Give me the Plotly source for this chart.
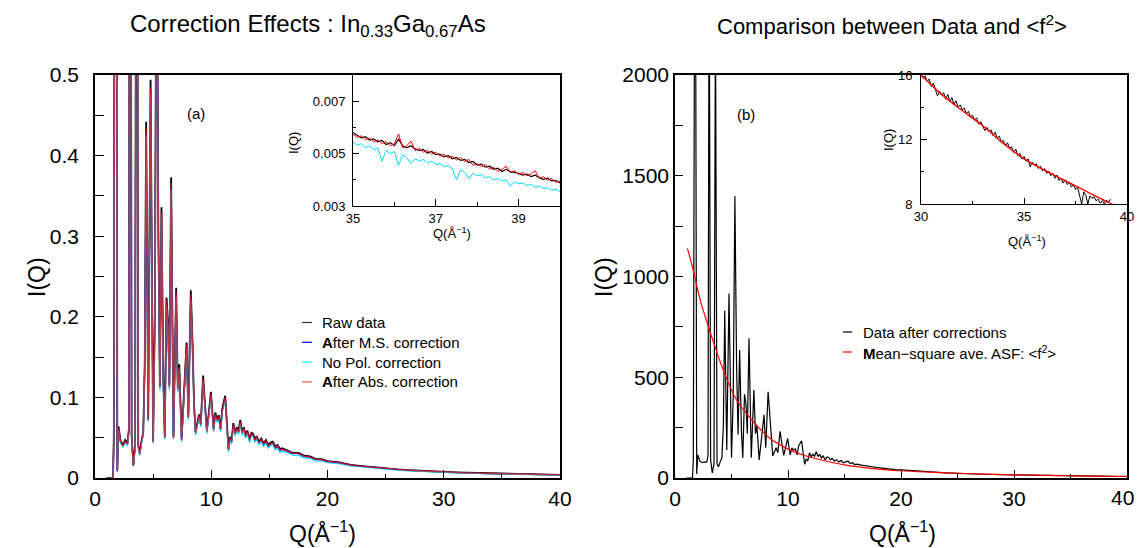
import plotly.graph_objects as go

# ---------------- data: panel (a) main ----------------
q_main = [
    1.0, 1.55, 1.62, 1.78, 1.92, 2.02, 2.2, 2.4, 2.6, 2.8,
    2.92, 3.02, 3.15, 3.3, 3.45, 3.58, 3.72, 3.85, 4.0, 4.15,
    4.28, 4.4, 4.58, 4.78, 5.0, 5.15, 5.3, 5.45, 5.58, 5.72,
    5.88, 6.0, 6.15, 6.28, 6.4, 6.55, 6.75, 6.98, 7.12, 7.25,
    7.45, 7.6, 7.72, 7.88, 8.03, 8.24, 8.38, 8.52, 8.65, 8.8,
    8.95, 9.1, 9.3, 9.42, 9.62, 9.78, 9.97, 10.2, 10.35, 10.5,
    10.65, 10.8, 10.95, 11.2, 11.35, 11.48, 11.62, 11.75, 11.9, 12.05,
    12.2, 12.35, 12.5, 12.65, 12.8, 12.95, 13.1, 13.3, 13.45, 13.6,
    13.75, 13.9, 14.1, 14.3, 14.5, 14.7, 14.9, 15.1, 15.3, 15.5,
    15.7, 15.9, 16.1, 16.5, 17.0, 17.5, 18.0, 18.5, 19.0, 19.5,
    20.0, 21.0, 22.0, 23.0, 24.0, 25.0, 26.0, 27.0, 28.0, 29.0,
    30.0, 31.0, 32.0, 33.0, 34.0, 35.0, 36.0, 37.0, 38.0, 39.0,
    40.0,
]
i_raw = [
    0.0, 0.0, 0.052, 1.85, 0.009, 0.064, 0.046, 0.041, 0.047, 0.043,
    0.062, 1.45, 0.052, 0.016, 0.041, 1.24, 0.041, 0.031, 0.046, 0.056,
    0.143, 0.442, 0.073, 0.494, 0.046, 0.205, 0.76, 0.306, 0.115, 0.336,
    0.122, 0.051, 0.224, 0.194, 0.115, 0.373, 0.051, 0.236, 0.112, 0.141,
    0.048, 0.092, 0.132, 0.168, 0.076, 0.233, 0.173, 0.092, 0.057, 0.069,
    0.079, 0.067, 0.127, 0.1, 0.059, 0.079, 0.107, 0.061, 0.081, 0.073,
    0.078, 0.061, 0.086, 0.102, 0.071, 0.036, 0.051, 0.046, 0.068, 0.056,
    0.063, 0.058, 0.072, 0.057, 0.063, 0.053, 0.059, 0.048, 0.056, 0.055,
    0.048, 0.052, 0.045, 0.049, 0.043, 0.047, 0.041, 0.044, 0.045, 0.039,
    0.041, 0.036, 0.037, 0.0347, 0.0312, 0.0311, 0.0276, 0.0267, 0.0235, 0.0233,
    0.021, 0.0194, 0.0164, 0.0148, 0.0133, 0.0123, 0.0108, 0.0098, 0.0089, 0.0082,
    0.0076, 0.007, 0.0065, 0.0061, 0.0058, 0.0056, 0.0052, 0.0048, 0.0044, 0.0042,
    0.0039,
]
i_ms = [
    0.0, 0.0, 0.049, 1.78, 0.008, 0.061, 0.044, 0.039, 0.045, 0.041,
    0.059, 1.38, 0.049, 0.015, 0.039, 1.18, 0.039, 0.029, 0.044, 0.054,
    0.138, 0.429, 0.071, 0.48, 0.044, 0.198, 0.73, 0.296, 0.111, 0.325,
    0.118, 0.049, 0.217, 0.188, 0.111, 0.362, 0.049, 0.228, 0.108, 0.136,
    0.046, 0.089, 0.128, 0.163, 0.074, 0.225, 0.168, 0.089, 0.055, 0.067,
    0.077, 0.065, 0.122, 0.097, 0.057, 0.077, 0.104, 0.059, 0.078, 0.071,
    0.075, 0.059, 0.083, 0.099, 0.069, 0.034, 0.049, 0.044, 0.065, 0.054,
    0.061, 0.056, 0.069, 0.055, 0.061, 0.051, 0.057, 0.046, 0.054, 0.053,
    0.046, 0.05, 0.043, 0.047, 0.041, 0.045, 0.039, 0.042, 0.043, 0.037,
    0.039, 0.034, 0.035, 0.0335, 0.0301, 0.0301, 0.0266, 0.0258, 0.0227, 0.0225,
    0.0202, 0.0187, 0.0157, 0.0143, 0.0128, 0.0118, 0.0104, 0.0094, 0.0085, 0.0078,
    0.0072, 0.0067, 0.0062, 0.0058, 0.0055, 0.0053, 0.0049, 0.0045, 0.0042, 0.004,
    0.0037,
]
i_nopol = [
    0.0, 0.0, 0.048, 1.75, 0.007, 0.06, 0.043, 0.038, 0.044, 0.040,
    0.058, 1.36, 0.048, 0.014, 0.038, 1.16, 0.038, 0.028, 0.043, 0.053,
    0.136, 0.425, 0.07, 0.476, 0.043, 0.195, 0.72, 0.292, 0.109, 0.321,
    0.116, 0.048, 0.214, 0.185, 0.109, 0.357, 0.048, 0.225, 0.106, 0.134,
    0.045, 0.087, 0.126, 0.16, 0.072, 0.221, 0.165, 0.087, 0.053, 0.065,
    0.075, 0.063, 0.12, 0.095, 0.055, 0.075, 0.101, 0.057, 0.076, 0.069,
    0.073, 0.057, 0.081, 0.096, 0.067, 0.032, 0.047, 0.042, 0.063, 0.052,
    0.059, 0.054, 0.067, 0.053, 0.059, 0.049, 0.055, 0.044, 0.052, 0.051,
    0.044, 0.048, 0.041, 0.045, 0.039, 0.043, 0.037, 0.04, 0.041, 0.035,
    0.037, 0.032, 0.033, 0.0315, 0.0283, 0.0283, 0.025, 0.0242, 0.0213, 0.0211,
    0.019, 0.0176, 0.0148, 0.0134, 0.012, 0.011, 0.0097, 0.0088, 0.008, 0.0073,
    0.0068, 0.0063, 0.0059, 0.0055, 0.0052, 0.005, 0.0047, 0.0043, 0.004, 0.0038,
    0.0035,
]
i_abs = [
    0.0, 0.0, 0.05, 1.8, 0.008, 0.062, 0.045, 0.040, 0.046, 0.042,
    0.06, 1.4, 0.05, 0.015, 0.04, 1.2, 0.04, 0.03, 0.045, 0.055,
    0.14, 0.434, 0.072, 0.485, 0.045, 0.2, 0.74, 0.3, 0.113, 0.329,
    0.12, 0.05, 0.22, 0.19, 0.113, 0.366, 0.05, 0.231, 0.11, 0.138,
    0.047, 0.09, 0.13, 0.165, 0.075, 0.228, 0.17, 0.09, 0.056, 0.068,
    0.078, 0.066, 0.124, 0.098, 0.058, 0.078, 0.105, 0.06, 0.079, 0.072,
    0.076, 0.06, 0.084, 0.1, 0.07, 0.035, 0.05, 0.045, 0.066, 0.055,
    0.062, 0.057, 0.07, 0.056, 0.062, 0.052, 0.058, 0.047, 0.055, 0.054,
    0.047, 0.051, 0.044, 0.048, 0.042, 0.046, 0.040, 0.043, 0.044, 0.038,
    0.040, 0.035, 0.036, 0.034, 0.0305, 0.0305, 0.027, 0.0262, 0.023, 0.0228,
    0.0205, 0.019, 0.016, 0.0145, 0.013, 0.012, 0.0106, 0.0096, 0.0087, 0.008,
    0.0074, 0.0069, 0.0064, 0.006, 0.0057, 0.0055, 0.0051, 0.0047, 0.0043, 0.0041,
    0.0038,
]

# ---------------- data: panel (a) inset ----------------
q_inset_a = [
    35.0, 35.1, 35.2, 35.3, 35.4, 35.5, 35.6, 35.7, 35.8, 35.9,
    36.0, 36.1, 36.2, 36.3, 36.4, 36.5, 36.6, 36.7, 36.8, 36.9,
    37.0, 37.1, 37.2, 37.3, 37.4, 37.5, 37.6, 37.7, 37.8, 37.9,
    38.0, 38.1, 38.2, 38.3, 38.4, 38.5, 38.6, 38.7, 38.8, 38.9,
    39.0, 39.1, 39.2, 39.3, 39.4, 39.5, 39.6, 39.7, 39.8, 39.9,
    40.0,
]
ia_raw = [
    .00580, .00570, .00560, .00565, .00552, .00556, .00545, .00550, .00535, .00542,
    .00530, .00555, .00530, .00522, .00530, .00518, .00512, .00515, .00502, .00508,
    .00496, .00498, .00488, .00492, .00480, .00485, .00474, .00478, .00466, .00470,
    .00456, .00460, .00448, .00452, .00440, .00444, .00432, .00440, .00430, .00428,
    .00425, .00418, .00422, .00412, .00418, .00408, .00402, .00406, .00396, .00398,
    .00388,
]
ia_abs = [
    .00575, .00562, .00568, .00553, .00560, .00545, .00552, .00538, .00546, .00530,
    .00538, .00575, .00522, .00530, .00548, .00512, .00520, .00505, .00512, .00498,
    .00505, .00490, .00497, .00483, .00490, .00476, .00485, .00470, .00478, .00455,
    .00462, .00450, .00458, .00440, .00448, .00432, .00440, .00452, .00428, .00435,
    .00420, .00428, .00415, .00422, .00435, .00405, .00412, .00398, .00405, .00390,
    .00395,
]
ia_nopol = [
    .00545, .00532, .00538, .00522, .00530, .00515, .00522, .00470, .00512, .00500,
    .00508, .00455, .00495, .00485, .00462, .00480, .00472, .00478, .00465, .00470,
    .00458, .00462, .00450, .00455, .00442, .00400, .00438, .00428, .00405, .00425,
    .00415, .00420, .00408, .00412, .00400, .00405, .00395, .00400, .00375, .00392,
    .00385, .00388, .00378, .00382, .00372, .00376, .00366, .00370, .00360, .00364,
    .00355,
]

# ---------------- data: panel (b) main ----------------
i_corr = [
    0, 0, 90, 3500, 20, 115, 85, 76, 80, 78,
    110, 2700, 90, 25, 70, 2300, 70, 56, 80, 100,
    260, 830, 139, 915, 100, 400, 1400, 560, 215, 635,
    230, 100, 415, 370, 220, 693, 100, 437, 220, 260,
    90, 170, 250, 313, 150, 428, 320, 175, 110, 130,
    150, 125, 232, 185, 112, 150, 195, 115, 150, 138,
    145, 115, 160, 185, 130, 68, 95, 85, 125, 105,
    118, 108, 130, 106, 118, 99, 110, 90, 104, 102,
    90, 97, 84, 91, 80, 87, 76, 82, 84, 72,
    76, 67, 69, 64, 59, 55, 51, 48, 44, 42,
    40, 36, 31, 28, 25, 23, 20.5, 18.6, 17.3, 16.8,
    16.0, 14.6, 13.4, 12.5, 11.6, 10.8, 10.0, 9.3, 8.7, 8.1,
    None,
]
q_f2 = [1.1, 1.6, 2.2, 3.1, 4.27, 5.45, 6.93, 8.4, 9.87, 11.35,
        12.68, 15.0, 17.5, 20.0, 22.5, 25.0, 27.5, 30.0, 31.0, 32.0,
        33.0, 34.0, 35.0, 36.0, 37.0, 38.0, 39.0, 40.0]
f2 = [1140, 1035, 890, 726, 536, 387, 280, 197, 147, 114,
      93, 65, 47, 36, 29, 23.5, 19.3, 16.0, 14.8, 13.8,
      12.85, 11.75, 10.8, 10.1, 9.45, 8.8, 8.15, 7.6]

# ---------------- data: panel (b) inset ----------------
q_inset_b = [
    30.0, 30.1, 30.2, 30.3, 30.4, 30.5, 30.6, 30.7, 30.8, 30.9,
    31.0, 31.1, 31.2, 31.3, 31.4, 31.5, 31.6, 31.7, 31.8, 31.9,
    32.0, 32.1, 32.2, 32.3, 32.4, 32.5, 32.6, 32.7, 32.8, 32.9,
    33.0, 33.1, 33.2, 33.3, 33.4, 33.5, 33.6, 33.7, 33.8, 33.9,
    34.0, 34.1, 34.2, 34.3, 34.4, 34.5, 34.6, 34.7, 34.8, 34.9,
    35.0, 35.1, 35.2, 35.3, 35.4, 35.5, 35.6, 35.7, 35.8, 35.9,
    36.0, 36.1, 36.2, 36.3, 36.4, 36.5, 36.6, 36.7, 36.8, 36.9,
    37.0, 37.1, 37.2, 37.3, 37.4, 37.5, 37.6, 37.7, 37.8, 37.9,
    38.0, 38.1, 38.2, 38.3, 38.4, 38.5, 38.6, 38.7, 38.8, 38.9,
    39.0, 39.1, 39.2,
]
ib_corr = [
    16.1, 15.8, 15.95, 15.6, 15.75, 15.3, 15.5, 15.1, 14.7, 15.0,
    14.75, 14.9, 14.5, 14.8, 14.35, 14.6, 14.2, 14.4, 14.0, 14.15,
    13.85, 13.95, 13.6, 13.75, 13.4, 13.5, 13.2, 13.35, 12.95, 13.1,
    12.8, 12.55, 12.75, 12.5, 12.6, 12.25, 12.45, 12.1, 12.2, 11.85,
    11.95, 11.6, 11.8, 11.45, 11.55, 11.2, 11.4, 11.0, 11.15, 10.8,
    10.95, 10.65, 10.8, 10.3, 10.6, 10.4, 10.5, 10.2, 10.35, 10.05,
    10.2, 9.9, 10.05, 9.75, 9.9, 9.6, 9.8, 9.45, 9.6, 9.3,
    9.5, 9.2, 9.35, 9.05, 9.2, 8.9, 9.05, 8.6, 8.0, 8.75,
    8.55, 8.0, 8.5, 8.35, 8.45, 8.2, 8.3, 8.05, 8.2, 8.0,
    8.25, 8.1, 8.3,
]

# tick labels of the main Q axes
q_ticks = [0, 10, 20, 30, 40]
q_ticklabels_b = ["0", "10", "20", "30", ""]   # "40" drawn as separate text so it stays inside the page

# ---------------- figure ----------------
W, H = 1137, 548
FONT = "Liberation Sans, Arial, sans-serif"


def px(x):
    return x / W


def py(y):
    return 1 - y / H


fig = go.Figure()

C_RAW, C_MS, C_NOPOL, C_ABS = "#000000", "#2020ff", "#00d8ff", "#ff0000"

# panel (a) main
for yy, c, w, op in [(i_raw, C_RAW, 1.8, 1.0), (i_ms, C_MS, 1.2, 1.0),
                     (i_nopol, C_NOPOL, 1.1, 1.0), (i_abs, C_ABS, 1.3, 0.72)]:
    fig.add_trace(go.Scatter(x=q_main, y=yy, mode="lines", line=dict(color=c, width=w),
                             opacity=op, xaxis="x", yaxis="y", showlegend=False, hoverinfo="skip"))
# panel (a) inset
for yy, c, w in [(ia_raw, C_RAW, 1.2), (ia_nopol, C_NOPOL, 1.0), (ia_abs, C_ABS, 1.0)]:
    fig.add_trace(go.Scatter(x=q_inset_a, y=yy, mode="lines", line=dict(color=c, width=w),
                             xaxis="x3", yaxis="y3", showlegend=False, hoverinfo="skip"))
# panel (b) main
fig.add_trace(go.Scatter(x=q_main, y=i_corr, mode="lines", line=dict(color="black", width=1.2),
                         xaxis="x2", yaxis="y2", showlegend=False, hoverinfo="skip"))
fig.add_trace(go.Scatter(x=q_f2, y=f2, mode="lines", line=dict(color="red", width=1.2, shape="spline"),
                         xaxis="x2", yaxis="y2", showlegend=False, hoverinfo="skip"))
# panel (b) inset
fig.add_trace(go.Scatter(x=q_inset_b, y=ib_corr, mode="lines", line=dict(color="black", width=1.0),
                         xaxis="x4", yaxis="y4", showlegend=False, hoverinfo="skip"))
fig.add_trace(go.Scatter(x=q_f2, y=f2, mode="lines", line=dict(color="red", width=1.4, shape="spline"),
                         xaxis="x4", yaxis="y4", showlegend=False, hoverinfo="skip"))


def ax(domain, rng, dtick, minor_dtick, tick0, fsize, lw, tlen, mlen, standoff, anchor, fmt=None):
    d = dict(domain=domain, range=rng, anchor=anchor, showline=True, mirror=True,
             linecolor="black", linewidth=lw, ticks="inside", ticklen=tlen, tickwidth=1,
             tickcolor="black", tick0=tick0, dtick=dtick, showgrid=False, zeroline=False,
             automargin=False, ticklabeloverflow="allow",
             tickfont=dict(family=FONT, size=fsize, color="black"),
             ticklabelstandoff=standoff,
             minor=dict(ticks="inside", dtick=minor_dtick, tick0=tick0, ticklen=mlen,
                        tickcolor="black", showgrid=False))
    if fmt:
        d["tickformat"] = fmt
    return d


xa_dom = [px(95), px(560)]
xb_dom = [px(675), px(1127)]
y_dom = [py(478), py(75)]

xaxis2 = ax(xb_dom, [0, 40], 10, 5, 0, 21, 1.5, 8, 4, 1, "y2")
xaxis2.update(tickmode="array", tickvals=q_ticks, ticktext=q_ticklabels_b)

fig.update_layout(
    template="none",
    width=W, height=H, autosize=False,
    margin=dict(l=0, r=0, t=0, b=0, pad=0),
    paper_bgcolor="white", plot_bgcolor="white",
    xaxis=ax(xa_dom, [0, 40], 10, 5, 0, 21, 1.5, 8, 4, 1, "y"),
    yaxis=ax(y_dom, [0, 0.5], 0.1, 0.05, 0, 21, 1.5, 9, 9, 10, "x"),
    xaxis2=xaxis2,
    yaxis2=ax(y_dom, [0, 2000], 500, 250, 0, 21, 1.5, 8, 8, 0, "x2"),
    xaxis3=ax([px(353), px(560)], [35, 40], 2, 1, 35, 13, 1.0, 7, 4, 0, "y3"),
    yaxis3=ax([py(206), py(75)], [0.003, 0.008], 0.002, 0.001, 0.003, 13, 1.0, 6, 3, 4, "x3", ".3f"),
    xaxis4=ax([px(921), px(1127)], [30, 40], 5, 2.5, 30, 13, 1.0, 6, 3, 0, "y4"),
    yaxis4=ax([py(204), py(75)], [8, 16], 4, 2, 8, 13, 1.0, 6, 3, 5, "x4"),
)

ann = []


def text(x, y, s, size, xanchor="center", angle=0):
    ann.append(dict(x=px(x), y=py(y), xref="paper", yref="paper", text=s, showarrow=False,
                    xanchor=xanchor, yanchor="middle", textangle=angle,
                    font=dict(family=FONT, size=size, color="black")))


text(308, 25, "Correction Effects : In<sub>0.33</sub>Ga<sub>0.67</sub>As", 24)
text(892, 25, "Comparison between Data and &lt;f<sup>2</sup>&gt;", 22)
text(37, 277, "I(Q)", 23, angle=-90)
text(604, 277, "I(Q)", 23, angle=-90)
text(322, 532, "Q(Å<sup>−1</sup>)", 23)
text(902, 532, "Q(Å<sup>−1</sup>)", 23)
text(1136, 497, "40", 21, xanchor="right")
text(196, 113, "(a)", 15)
text(746, 114, "(b)", 15)
text(293, 143, "I(Q)", 13, angle=-90)
text(452, 233, "Q(Å<sup>−1</sup>)", 13)
text(888, 140, "I(Q)", 13, angle=-90)
text(1027, 241, "Q(Å<sup>−1</sup>)", 13)

# legend (a)
leg_a = [("Raw data", "#333333"), ("<b>A</b>fter M.S. correction", "#0000ff"),
         ("No Pol. correction", "#00ffff"), ("<b>A</b>fter Abs. correction", "#ff5050")]
shapes = []
for k, (lab, c) in enumerate(leg_a):
    yk = 322.5 + 19.8 * k
    shapes.append(dict(type="line", xref="paper", yref="paper", x0=px(302), x1=px(312),
                       y0=py(yk), y1=py(yk), line=dict(color=c, width=1.2)))
    text(320, yk, lab, 15, xanchor="left")
# legend (b)
leg_b = [("Data after corrections", "black"),
         ("<b>M</b>ean−square ave. ASF: &lt;f<sup>2</sup>&gt;", "red")]
for k, (lab, c) in enumerate(leg_b):
    yk = 332 + 20 * k
    shapes.append(dict(type="line", xref="paper", yref="paper", x0=px(843), x1=px(852),
                       y0=py(yk), y1=py(yk), line=dict(color=c, width=1.2)))
    text(861, yk, lab, 15, xanchor="left")

fig.update_layout(annotations=ann, shapes=shapes)

fig.write_html("out.html")
